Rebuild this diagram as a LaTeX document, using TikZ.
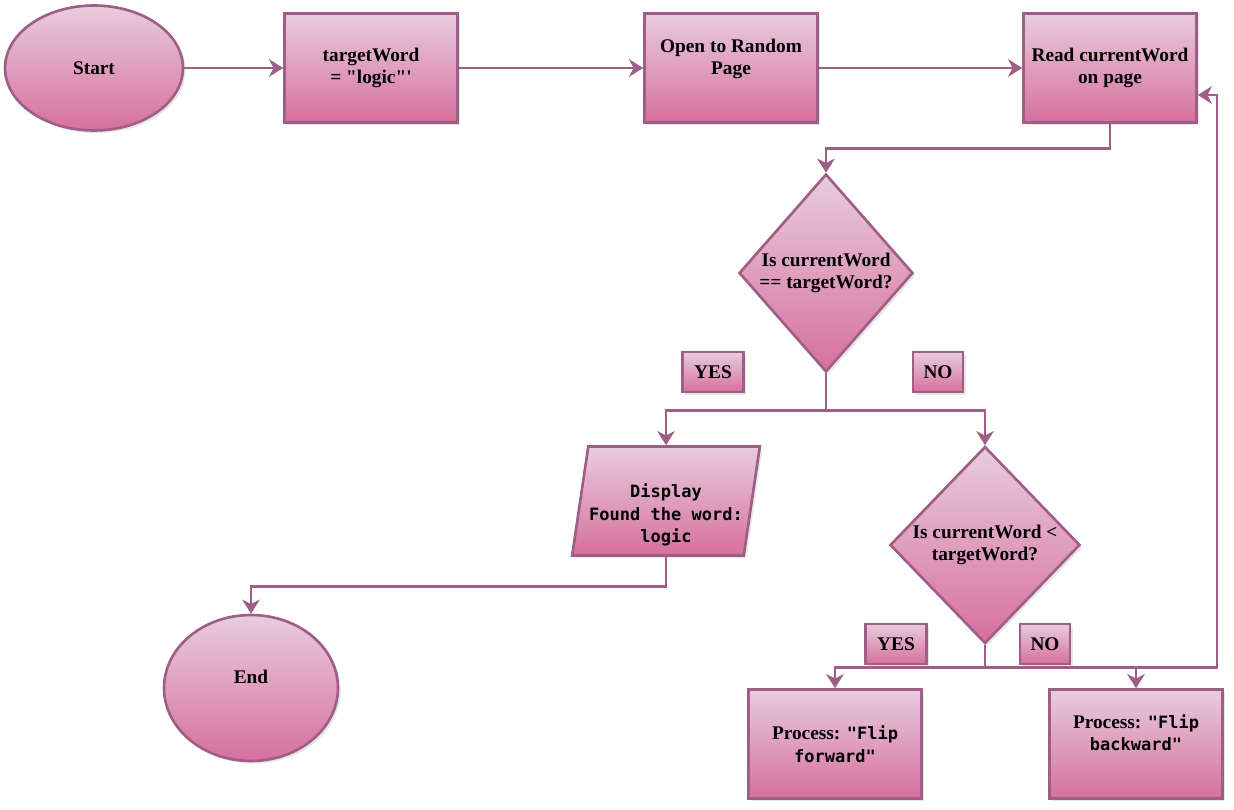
\documentclass[tikz,border=0pt]{standalone}
\usepackage{fontspec}
\newfontfamily\chartfont{Liberation Serif}
\newfontfamily\codefont{DejaVu Sans Mono}[Scale=0.88]
\usetikzlibrary{shapes.geometric,arrows.meta,shadows}
\definecolor{mypinktop}{RGB}{232,204,222}
\definecolor{mypinkbottom}{RGB}{214,112,158}
\definecolor{mymauve}{RGB}{158,94,134}
\newcommand{\code}[1]{{\codefont #1}}
\newcommand{\widthbox}{3.46cm}
\newcommand{\heightbox}{2.18cm}
\tikzset{
    common/.style={draw=mymauve, line width=1.5pt, top color=mypinktop, bottom color=mypinkbottom, align=center,
        font=\chartfont\fontsize{11}{12.8}\selectfont\bfseries,
        drop shadow={opacity=0.2, shadow xshift=1.5pt, shadow yshift=-1.5pt}},
    terminal/.style={common, ellipse, inner sep=0pt},
    process/.style={common, rectangle, minimum width=\widthbox, minimum height=\heightbox},
    decision/.style={common, diamond, inner sep=0pt},
    io/.style={common, trapezium, trapezium left angle=80, trapezium right angle=100, trapezium stretches=true,
        inner sep=0pt, minimum width=3.76cm, minimum height=\heightbox},
    answer/.style={common, rectangle, minimum height=0.8cm, inner sep=0pt},
    flow/.style={draw=mymauve, line width=1.5pt, -{Stealth[length=8pt, width=10pt, inset=2.5pt]}}
}
\begin{document}
\begin{tikzpicture}[x=0.02cm, y=-0.02cm]
    \useasboundingbox (0,0) rectangle (1234,810);

    \node[terminal, minimum width=3.56cm, minimum height=2.5cm] (start) at (94,68) {Start};
    \node[process] (target) at (371,68) {targetWord\\= "logic"'};
    \node[process] (open) at (731,68) {Open to Random\\Page\\\mbox{}};
    \node[process] (read) at (1110,68) {Read currentWord\\on page};
    \node[decision, minimum width=3.48cm, minimum height=3.96cm] (same) at (826,273) {Is currentWord\\== targetWord?};
    \node[answer, minimum width=1.22cm] (yesa) at (713,372) {YES};
    \node[answer, minimum width=1cm] (noa) at (938,372) {NO};
    \node[io] (display) at (666,501) {\mbox{}\\[11pt]\code{Display}\\\code{Found the word:}\\\code{logic}};
    \node[terminal, minimum width=3.48cm, minimum height=2.92cm] (end) at (251,688) {End\\\mbox{}};
    \node[decision, minimum width=3.8cm, minimum height=3.94cm] (less) at (985,545) {Is currentWord <\\targetWord?};
    \node[answer, minimum width=1.22cm] (yesb) at (896,644) {YES};
    \node[answer, minimum width=1cm] (nob) at (1045,644) {NO};
    \node[process] (forward) at (835,744) {Process: \code{"Flip}\\\code{forward"}};
    \node[process] (backward) at (1136,744) {Process: \code{"Flip}\\\code{backward"}\\\mbox{}};
    \coordinate (back) at (1217,95);

    \draw[flow] (start) -- (target);
    \draw[flow] (target) -- (open);
    \draw[flow] (open) -- (read);
    \draw[flow] (read.south) -- ++(0,25) -| (same.north);
    \draw[flow] (same.south) -- ++(0,37) -| (display.north);
    \draw[flow] (same.south) -- ++(0,37) -| (less.north);
    \draw[flow] (display.south) -- ++(0,30) -| (end.north);
    \draw[flow] (less.south) -- ++(0,23) -| (forward.north);
    \draw[flow] (less.south) -- ++(0,23) -| (backward.north);
    \draw[flow] (less.south) -- ++(0,23) -| (back) -- (back -| read.east);
\end{tikzpicture}
\end{document}
